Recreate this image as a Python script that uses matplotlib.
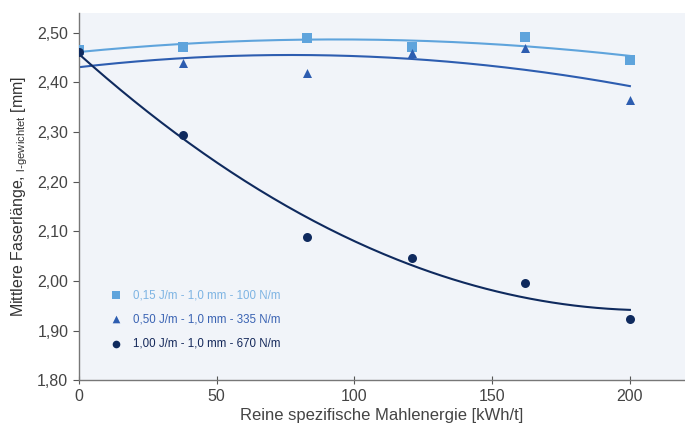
import numpy as np
import matplotlib.pyplot as plt

# data
energy = [0, 38, 83, 121, 162, 200]
lo_vals = [2.465, 2.472, 2.490, 2.472, 2.492, 2.445]    # 0,15 J/m
mid_vals = [2.445, 2.440, 2.420, 2.460, 2.470, 2.365]   # 0,50 J/m
hi_vals = [2.462, 2.294, 2.089, 2.046, 1.996, 1.923]    # 1,00 J/m

labels = ["0,15 J/m - 1,0 mm - 100 N/m",
          "0,50 J/m - 1,0 mm - 335 N/m",
          "1,00 J/m - 1,0 mm - 670 N/m"]
colors = ["#5fa4dc", "#2d5db0", "#0f2a5e"]
text_colors = ["#7db4e3", "#3a63b3", "#14285a"]
markers = ["s", "^", "o"]
yticks = [1.80, 1.90, 2.00, 2.10, 2.20, 2.30, 2.40, 2.50]
xticks = [0, 50, 100, 150, 200]


def main():
    plt.rcParams["font.family"] = ["Liberation Sans", "DejaVu Sans"]
    fig = plt.figure(figsize=(6.85, 4.32), dpi=100)
    ax = fig.add_axes([0.115, 0.12, 0.885, 0.85])
    ax.set_facecolor("#f1f4f9")

    xs = np.linspace(0, 200, 200)
    series = [lo_vals, mid_vals, hi_vals]
    for vals, col, mk, lab in zip(series, colors, markers, labels):
        # quadratic trend line through the measured points
        coef = np.polyfit(energy, vals, 2)
        ax.plot(xs, np.polyval(coef, xs), color=col, lw=1.5, zorder=2)
        pts_x = energy[1:] if mk == "^" else energy
        pts_y = vals[1:] if mk == "^" else vals
        ax.scatter(pts_x, pts_y, marker=mk, s=42, color=col, zorder=3,
                   label=lab, linewidths=0)

    ax.set_xlim(0, 220)
    ax.set_ylim(1.80, 2.54)
    ax.set_xticks(xticks)
    ax.set_yticks(yticks)
    ax.set_yticklabels([f"{v:.2f}".replace(".", ",") for v in yticks])
    ax.tick_params(colors="#555555", labelsize=11.5, length=4, width=0.8)
    ax.tick_params(axis="x", direction="inout", length=6)
    for t in ax.get_xticklabels() + ax.get_yticklabels():
        t.set_color("#444444")

    for s in ["top", "right"]:
        ax.spines[s].set_visible(False)
    for s in ["left", "bottom"]:
        ax.spines[s].set_color("#777777")
        ax.spines[s].set_linewidth(1.0)

    ax.set_xlabel("Reine spezifische Mahlenergie [kWh/t]", fontsize=12,
                  color="#444444", labelpad=3)
    ax.set_ylabel(r"Mittlere Faserlänge, $_{\mathregular{l\text{-}gewichtet}}$ [mm]",
                  fontsize=11.5, color="#333333", labelpad=5)

    leg = ax.legend(loc="lower left", bbox_to_anchor=(0.025, 0.055), frameon=False,
                    fontsize=8.3, handletextpad=0.5, labelspacing=1.05,
                    markerscale=0.85)
    for txt, col in zip(leg.get_texts(), text_colors):
        txt.set_color(col)

    fig.savefig("out.png", dpi=100)


if __name__ == "__main__":
    main()
